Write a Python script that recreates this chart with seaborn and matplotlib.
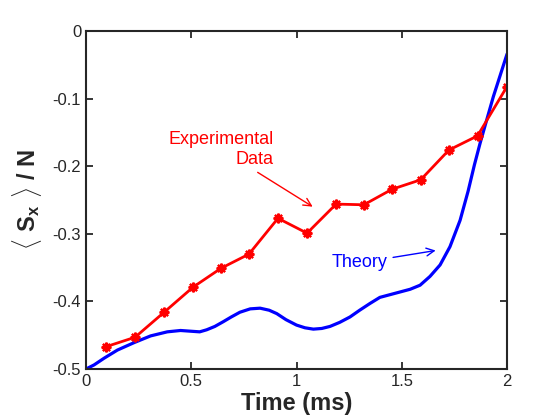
import numpy as np
import pandas as pd
import matplotlib
matplotlib.use("Agg")
import matplotlib.pyplot as plt
import seaborn as sns

# experimental points (red, asterisks)
exp_time = [0.095, 0.233, 0.371, 0.508, 0.641, 0.774, 0.912, 1.05,
            1.188, 1.32, 1.454, 1.59, 1.724, 1.86, 2.0]
exp_sx = [-0.467, -0.453, -0.416, -0.379, -0.351, -0.330, -0.277, -0.299,
          -0.256, -0.257, -0.234, -0.220, -0.176, -0.155, -0.082]

# theory curve (blue)
th_time = [0.0, 0.038, 0.086, 0.149, 0.228, 0.307, 0.386, 0.449, 0.494,
           0.540, 0.573, 0.612, 0.652, 0.690, 0.731, 0.780, 0.827, 0.870,
           0.906, 0.950, 1.0, 1.04, 1.08, 1.12, 1.159, 1.205, 1.254, 1.30,
           1.349, 1.396, 1.444, 1.492, 1.540, 1.587, 1.634, 1.682, 1.729,
           1.777, 1.815, 1.845, 1.872, 1.903, 1.935, 1.967, 2.0]
th_sx = [-0.500, -0.494, -0.484, -0.472, -0.461, -0.451, -0.445, -0.443,
         -0.444, -0.445, -0.442, -0.437, -0.430, -0.423, -0.416, -0.411,
         -0.410, -0.413, -0.418, -0.427, -0.435, -0.439, -0.441, -0.440,
         -0.437, -0.431, -0.423, -0.413, -0.403, -0.394, -0.390, -0.386,
         -0.382, -0.376, -0.363, -0.346, -0.319, -0.280, -0.237, -0.198,
         -0.166, -0.132, -0.097, -0.066, -0.034]

exp_df = pd.DataFrame({"time": exp_time, "sx": exp_sx})
th_df = pd.DataFrame({"time": th_time, "sx": th_sx})

sns.set_theme(style="ticks")
plt.rcParams["font.family"] = ["Liberation Sans", "DejaVu Sans"]
plt.rcParams["mathtext.fontset"] = "custom"
plt.rcParams["mathtext.rm"] = "Liberation Sans"
plt.rcParams["mathtext.bf"] = "Liberation Sans:bold"

fig = plt.figure(figsize=(5.6, 4.2), dpi=100)
ax = fig.add_axes([0.1536, 0.1214, 0.7518, 0.8046])

sns.lineplot(data=th_df, x="time", y="sx", ax=ax, color="#0000ff",
             linewidth=2.3, sort=False, solid_joinstyle="round")
sns.lineplot(data=exp_df, x="time", y="sx", ax=ax, color="#ff0000",
             linewidth=2.0, marker=(8, 2, 0), markersize=7,
             markeredgewidth=1.6, markeredgecolor="#ff0000", sort=False,
             solid_joinstyle="round")

ax.set_xlim(0, 2)
ax.set_ylim(-0.5, 0)
ax.set_xticks([0, 0.5, 1, 1.5, 2])
ax.set_xticklabels(["0", "0.5", "1", "1.5", "2"])
ax.set_yticks([-0.5, -0.4, -0.3, -0.2, -0.1, 0])
ax.set_yticklabels(["-0.5", "-0.4", "-0.3", "-0.2", "-0.1", "0"])
ax.tick_params(direction="in", length=5, width=1.3, labelsize=12,
               top=True, right=True, color="#262626", labelcolor="#262626")
for s in ax.spines.values():
    s.set_linewidth(1.5)
    s.set_color("#262626")

ax.set_xlabel("Time (ms)", fontsize=17, fontweight="bold", color="#262626",
              labelpad=2)
ax.set_ylabel(r"$\langle\ \mathbf{S_x}\ \rangle$ / N", fontsize=17,
              fontweight="bold", color="#262626", labelpad=6)

ax.annotate("Experimental\nData", xy=(1.088, -0.262), xytext=(0.89, -0.202),
            color="#ff0000", fontsize=13, ha="right", va="bottom",
            multialignment="right",
            arrowprops=dict(arrowstyle="->", color="#ff0000", lw=1.0,
                            mutation_scale=14))
ax.annotate("Theory", xy=(1.674, -0.324), xytext=(1.43, -0.343),
            color="#0000ff", fontsize=13, ha="right", va="center",
            arrowprops=dict(arrowstyle="->", color="#0000ff", lw=1.0,
                            mutation_scale=14))

fig.savefig("out.png", dpi=100)
